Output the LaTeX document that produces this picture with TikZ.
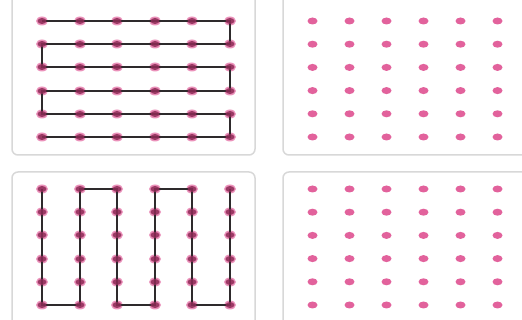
\documentclass[tikz,border=0pt]{standalone}
\usetikzlibrary{shapes.geometric}
\definecolor{dotpink}{HTML}{E2629C}
\definecolor{dotdark}{HTML}{8E2A56}
\definecolor{panelline}{HTML}{D8D8D8}
\definecolor{pathline}{HTML}{2E2A2C}
\tikzset{
  panel/.style={draw=panelline, line width=1.5pt, fill=white, rounded corners=6pt},
  pinkdot/.style={ellipse, fill=dotpink, minimum width=10pt, minimum height=7pt, inner sep=0pt},
  darkdot/.style={ellipse, fill=dotpink!70, minimum width=12pt, minimum height=9pt, inner sep=0pt},
  snake/.style={draw=pathline, line width=2pt, line join=miter},
}
\begin{document}
\begin{tikzpicture}[x=1pt,y=-1pt]
\useasboundingbox (0,0) rectangle (522,320);
\fill[white] (0,0) rectangle (522,320);
% panels
\draw[panel] (12,-20) rectangle (255,155);
\draw[panel] (283,-20) rectangle (560,155);
\draw[panel] (12,172) rectangle (255,360);
\draw[panel] (283,172) rectangle (560,360);
% top-left dots
\foreach \r in {1,...,6} \foreach \c in {1,...,6}
  \node[darkdot] (tl-\r-\c) at ({round(42+37.5*(\c-1))},{round(21+23.2*(\r-1))}) {};
% bottom-left dots
\foreach \r in {1,...,6} \foreach \c in {1,...,6}
  \node[darkdot] (bl-\r-\c) at ({round(42+37.5*(\c-1))},{round(189+23.2*(\r-1))}) {};
% right dots
\foreach \r in {1,...,6} \foreach \c in {1,...,6} {
  \node[pinkdot] (tr-\r-\c) at ({312.5+37*(\c-1)},{21+23.2*(\r-1)}) {};
  \node[pinkdot] (br-\r-\c) at ({312.5+37*(\c-1)},{189+23.2*(\r-1)}) {};
}
% top-left horizontal snake
\draw[snake] (tl-1-1.center) -- (tl-1-6.center) -- (tl-2-6.center) -- (tl-2-1.center)
  -- (tl-3-1.center) -- (tl-3-6.center) -- (tl-4-6.center) -- (tl-4-1.center)
  -- (tl-5-1.center) -- (tl-5-6.center) -- (tl-6-6.center) -- (tl-6-1.center);
% bottom-left vertical snake
\draw[snake] (bl-1-1.center) -- (bl-6-1.center) -- (bl-6-2.center) -- (bl-1-2.center)
  -- (bl-1-3.center) -- (bl-6-3.center) -- (bl-6-4.center) -- (bl-1-4.center)
  -- (bl-1-5.center) -- (bl-6-5.center) -- (bl-6-6.center) -- (bl-1-6.center);
% dark dot cores on top of the path
\foreach \p in {tl,bl} \foreach \r in {1,...,6} \foreach \c in {1,...,6}
  \fill[dotdark, opacity=0.85] (\p-\r-\c.center) ellipse (4.5pt and 3pt);
\end{tikzpicture}
\end{document}
